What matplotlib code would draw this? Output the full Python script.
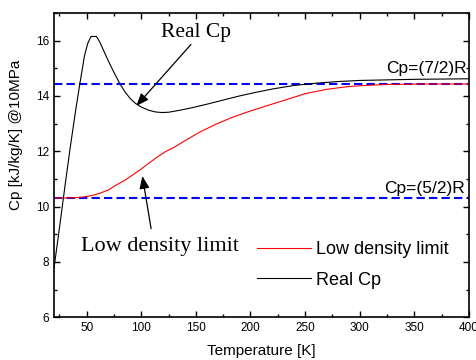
import matplotlib
matplotlib.use('Agg')
import matplotlib.pyplot as plt
from matplotlib.ticker import MultipleLocator

# Real Cp (hydrogen, 10 MPa)
T_real = [20, 25, 30, 35, 40, 44, 48, 51, 54, 59, 62, 66, 70, 75, 80, 85, 90, 95,
          100, 107, 113, 119, 125, 135, 145, 160, 175, 190, 205, 220, 240, 260,
          280, 300, 325, 350, 375, 400]
cp_real = [7.75, 9.2, 10.7, 12.15, 13.5, 14.5, 15.45, 15.9, 16.15, 16.15, 15.95,
           15.6, 15.25, 14.85, 14.47, 14.15, 13.9, 13.72, 13.6, 13.48, 13.42, 13.40,
           13.41, 13.48, 13.56, 13.7, 13.85, 14.0, 14.13, 14.25, 14.38, 14.46,
           14.52, 14.56, 14.58, 14.6, 14.61, 14.62]

# low density limit
T_low = [20, 30, 40, 50, 56, 62, 70, 77, 85, 92, 100, 107, 115, 122, 130, 140,
         153, 168, 183, 198, 213, 230, 250, 270, 290, 310, 330, 360, 400]
cp_low = [10.31, 10.31, 10.32, 10.36, 10.41, 10.48, 10.6, 10.78, 10.95, 11.14,
          11.36, 11.57, 11.8, 11.98, 12.14, 12.38, 12.68, 12.97, 13.22, 13.43,
          13.62, 13.83, 14.08, 14.24, 14.34, 14.39, 14.42, 14.43, 14.43]

cp_52 = 10.31   # (5/2)R
cp_72 = 14.43   # (7/2)R

plt.rcParams['font.family'] = ['Liberation Sans', 'DejaVu Sans']

fig = plt.figure(figsize=(4.77, 3.6), dpi=100)
ax = fig.add_axes([0.113, 0.119, 0.870, 0.845])

ax.axhline(cp_72, color='#0000ff', lw=1.5, ls=(0, (4, 2)))
ax.axhline(cp_52, color='#0000ff', lw=1.5, ls=(0, (4, 2)))
ax.plot(T_low, cp_low, color='red', lw=0.8, label='Low density limit')
ax.plot(T_real, cp_real, color='black', lw=0.8, label='Real Cp')

ax.set_xlim(20, 400)
ax.set_ylim(6, 17)
ax.xaxis.set_major_locator(MultipleLocator(50))
ax.xaxis.set_minor_locator(MultipleLocator(25))
ax.yaxis.set_major_locator(MultipleLocator(2))
ax.yaxis.set_minor_locator(MultipleLocator(1))
ax.tick_params(which='both', direction='in', top=True, right=True, width=1.0,
               labelsize=8.5)
ax.tick_params(which='major', length=4)
ax.tick_params(which='minor', length=2.5)
for s in ax.spines.values():
    s.set_linewidth(1.2)

ax.set_xlabel('Temperature [K]', fontsize=11, labelpad=7)
ax.set_ylabel('Cp [kJ/kg/K] @10MPa', fontsize=11)
ax.yaxis.set_label_coords(-0.075, 0.6)

ax.text(398, 14.84, 'Cp=(7/2)R', ha='right', va='baseline', fontsize=12.5)
ax.text(396, 10.49, 'Cp=(5/2)R', ha='right', va='baseline', fontsize=12.5)

# annotations with arrows
arr = dict(arrowstyle='-|>,head_length=0.75,head_width=0.3', color='black',
           lw=0.9, shrinkA=0, shrinkB=0, mutation_scale=10)
ax.text(150, 16.3, 'Real Cp', fontsize=15.5, family='Liberation Serif',
        ha='center', va='center')
ax.annotate('', xy=(95.5, 13.64), xytext=(145.5, 15.86), arrowprops=arr)
ax.text(117, 8.55, 'Low density limit', fontsize=16, family='Liberation Serif',
        ha='center', va='center')
ax.annotate('', xy=(101, 11.1), xytext=(109, 9.2), arrowprops=arr)

ax.legend(loc='upper left', bbox_to_anchor=(0.49, 0.25), frameon=False,
          fontsize=13, handlelength=3.0, handletextpad=0.25, labelspacing=0.75,
          borderpad=0, borderaxespad=0)

fig.savefig('out.png', dpi=100)
